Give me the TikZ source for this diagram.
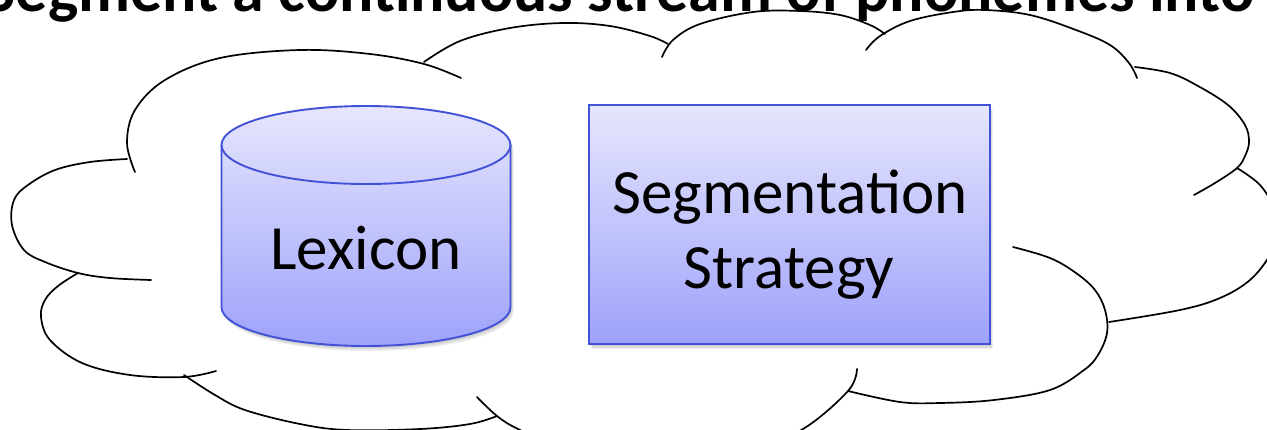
\documentclass[tikz,border=0pt]{standalone}
\usepackage{fontspec}
\setmainfont{Carlito}
\usepackage{graphicx}
\definecolor{edgeblue}{RGB}{66,82,214}
\definecolor{filltop}{RGB}{230,230,253}
\definecolor{fillbot}{RGB}{158,162,250}
\tikzset{
  cloudline/.style={draw=black, line width=1.7pt, line cap=round},
  shapeedge/.style={draw=edgeblue, line width=1.9pt},
  shapefill/.style={top color=filltop, bottom color=fillbot},
  bigtext/.style={font=\fontsize{63}{75}\selectfont, inner sep=0pt, anchor=base},
  shadowlayer/.style={fill=black, opacity=0.07}
}
\begin{document}
\begin{tikzpicture}[x=1pt,y=-1pt]
\useasboundingbox (0,0) rectangle (1267,429);
\clip (0,0) rectangle (1267,429);
\fill[white] (0,0) rectangle (1267,429);

% title (cut off at the top, as in the reference)
\node[anchor=base, inner sep=0pt] (title) at (620,11)
  {\resizebox{1268pt}{!}{\bfseries Segment a continuous stream of phonemes into}};

% cloud lobes
\draw[cloudline] plot[smooth, tension=0.6] coordinates {(135,172) (127,143) (135,110) (165,80) (220,58) (300,50) (370,54) (424,64) (461,78)};
\draw[cloudline] plot[smooth, tension=0.6] coordinates {(424,62) (460,41) (510,28) (563,23) (610,26) (650,36) (668,44)};
\draw[cloudline] plot[smooth, tension=0.6] coordinates {(662,57) (673,40) (700,24) (753,12) (800,11) (840,15) (870,25) (885,34)};
\draw[cloudline] plot[smooth, tension=0.6] coordinates {(866,50) (880,36) (910,21) (953,12) (985,10) (1030,15) (1076,30) (1110,45) (1129,63) (1137,78)};
\draw[cloudline] plot[smooth, tension=0.6] coordinates {(1135,67) (1170,73) (1198,86) (1228,105) (1245,125) (1249,142) (1245,156) (1237,168) (1215,183) (1194,195)};
\draw[cloudline] plot[smooth, tension=0.6] coordinates {(1237,168) (1260,185) (1275,210) (1278,232) (1270,255) (1250,280) (1220,298) (1180,310) (1109,322)};
\draw[cloudline] plot[smooth, tension=0.6] coordinates {(1013,247) (1050,258) (1076,273) (1095,290) (1105,310) (1107,333) (1098,355) (1084,370) (1050,390) (994,400) (940,403) (900,402) (848,391)};
\draw[cloudline] plot[smooth, tension=0.6] coordinates {(857,369) (848,391) (803,429) (750,450) (650,462) (560,447) (518,429) (497,416) (477,397)};
\draw[cloudline] plot[smooth, tension=0.6] coordinates {(184,375) (215,395) (245,410) (300,424) (347,430) (420,429) (470,424) (497,416)};
\draw[cloudline] plot[smooth, tension=0.6] coordinates {(78,273) (58,286) (45,300) (41,317) (50,340) (82,363) (130,375) (184,377) (216,371)};
\draw[cloudline] plot[smooth, tension=0.6] coordinates {(151,280) (110,278) (78,273) (45,262) (24,250) (12,225) (14,200) (28,185) (55,170) (90,162) (127,159)};

% Lexicon cylinder: shadow
\foreach \s in {2,3.5,5} {
  \fill[shadowlayer] (221.5+\s*0.6,145+\s) arc[start angle=180, end angle=360, x radius=144.5, y radius=39]
    -- (510.5+\s*0.6,307+\s) arc[start angle=0, end angle=180, x radius=144.5, y radius=39] -- cycle;
}
\path[shapefill, shapeedge] (221.5,145) arc[start angle=180, end angle=360, x radius=144.5, y radius=39]
  -- (510.5,307) arc[start angle=0, end angle=180, x radius=144.5, y radius=39] -- cycle;
\draw[shapeedge] (221.5,145) arc[start angle=180, end angle=0, x radius=144.5, y radius=39];
\node[bigtext] (lexicon) at (366,269) {Lexicon};

% Segmentation strategy box
\foreach \s in {2,3.5,5} {
  \fill[shadowlayer] (589+\s*0.6,105+\s) rectangle (990+\s*0.6,344+\s);
}
\node[shapefill, shapeedge, minimum width=401pt, minimum height=239pt, inner sep=0pt] (seg) at (789.5,224.5) {};
\node[bigtext] (segA) at (790,213) {Segmentation};
\node[bigtext] (segB) at (789,288) {Strategy};
\end{tikzpicture}
\end{document}
